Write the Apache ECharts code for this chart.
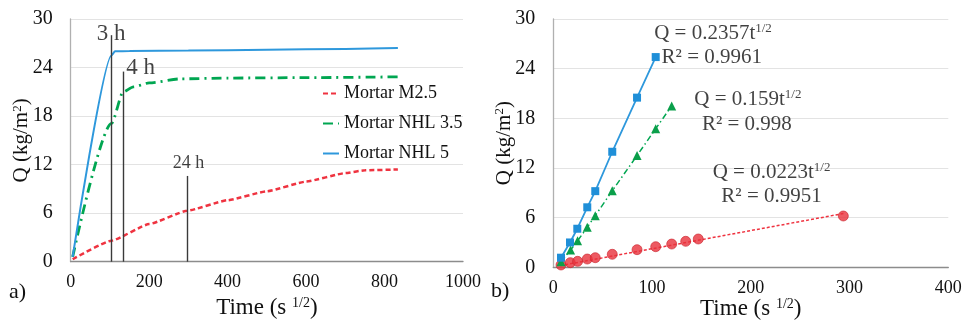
<!DOCTYPE html>
<html><head><meta charset="utf-8">
<script src="https://cdn.jsdelivr.net/npm/echarts@6/dist/echarts.min.js"></script>
<style>html,body{margin:0;padding:0;background:#fff}#c{width:966px;height:322px}</style>
</head><body><div id="c"></div>
<script>
// ---- Panel a) cumulative absorption vs sqrt(time) ----
const m25X  = [5, 104, 200, 297, 400, 500, 600, 700, 750, 834];
const m25Y  = [0.3, 2.6, 4.65, 6.3, 7.6, 8.7, 9.9, 10.95, 11.3, 11.4];
const nhl35X = [5, 104, 134, 160, 200, 280, 400, 600, 834];
const nhl35Y = [0.6, 17.1, 21.0, 21.6, 22.1, 22.6, 22.7, 22.75, 22.85];
const nhl5X  = [5, 104, 113, 150, 300, 500, 700, 834];
const nhl5Y  = [0.6, 25.5, 26.0, 26.05, 26.1, 26.2, 26.3, 26.4];
const hourLineX   = [104.5, 135, 297];
const hourLineTop = [28.0, 23.5, 10.6];
const hourLabels  = ['3 h', '4 h', '24 h'];
const hourLabelAt = [[103, 28.1], [178, 23.9], [300, 12.2]];

// ---- Panel b) linear part ----
const bM25X = [7.8, 17.2, 24.6, 34.4, 42.5, 59.7, 84.8, 103.7, 119.9, 134.1, 146.8, 293.7];
const bM25Y = [0.28, 0.56, 0.72, 1.0, 1.16, 1.57, 2.13, 2.49, 2.81, 3.14, 3.42, 6.2];
const bM25TrendX = [7, 294];
const bM25TrendY = [0.2, 6.5];
const bN35X = [7.8, 17.5, 24.6, 34.4, 42.5, 59.7, 84.8, 103.7, 119.9];
const bN35Y = [0.68, 2.1, 3.2, 4.83, 6.24, 9.25, 13.5, 16.75, 19.5];
const bN5X  = [7.8, 16.9, 24.3, 34.4, 42.5, 59.7, 84.8, 103.7];
const bN5Y  = [1.16, 3.0, 4.66, 7.25, 9.2, 13.96, 20.5, 25.4];
const eqTexts = ['Q = 0.2357t{sup|1/2}', 'R² = 0.9961', 'Q = 0.159t{sup|1/2}', 'R² = 0.998', 'Q = 0.0223t{sup|1/2}', 'R² = 0.9951'];
const eqAt    = [[161.7, 28.3], [160.5, 25.4], [197, 20.3], [196, 17.3], [221, 11.5], [221, 8.6]];

const FONT = "'Liberation Serif', 'Times New Roman', serif";
const RED = '#ef3340', GREEN = '#00a651', BLUE = '#2e98dc';
const zip = (xs, ys) => xs.map((x, i) => [x, ys[i]]);
const supStyle = (sz) => ({fontFamily: FONT, fontSize: sz, verticalAlign: 'top', padding: [0, 0, 9, 0], color: '#111'});

function xAxisCfg(grid, max, interval, gap) {
  return {
    gridIndex: grid, type: 'value', min: 0, max: max, interval: interval,
    axisLine: {show: true, onZero: false, lineStyle: {color: '#8c8c8c', width: 1.3}},
    axisTick: {show: false}, splitLine: {show: false},
    axisLabel: {color: '#111', fontFamily: FONT, fontSize: 18, margin: 12, formatter: v => String(v)},
    name: 'Time (s {sup|1/2})', nameLocation: 'middle', nameGap: gap, nameMoveOverlap: false,
    nameTextStyle: {color: '#111', fontFamily: FONT, fontSize: 23, rich: {sup: supStyle(14)}}
  };
}
function yAxisCfg(grid, gap) {
  return {
    gridIndex: grid, type: 'value', min: 0, max: 30, interval: 6,
    axisLine: {show: true, lineStyle: {color: '#b0b0b0', width: 1.3}},
    axisTick: {show: false},
    splitLine: {show: true, lineStyle: {color: '#e3e3e3', width: 1}},
    axisLabel: {color: '#111', fontFamily: FONT, fontSize: 20, margin: 18},
    name: 'Q (kg/m{sup|2})', nameLocation: 'middle', nameGap: gap, nameMoveOverlap: false,
    nameTextStyle: {color: '#111', fontFamily: FONT, fontSize: 21, rich: {sup: supStyle(13)}}
  };
}
function textSeries(grid, points, texts, size) {
  return {
    type: 'scatter', xAxisIndex: grid, yAxisIndex: grid, symbolSize: 0, silent: true, z: 10,
    data: points.map((p, i) => ({value: p, label: {formatter: texts[i]}})),
    label: {show: true, position: 'inside', color: '#111', fontFamily: FONT, fontSize: size,
      rich: {sup: supStyle(Math.round(size * 0.62))}}
  };
}

const chart = echarts.init(document.getElementById('c'), null, {renderer: 'canvas'});
chart.setOption({
  backgroundColor: '#fff',
  animation: false,
  textStyle: {fontFamily: FONT},
  grid: [
    {left: 70.7, top: 19, width: 392.3, height: 242.7, outerBoundsMode: 'none', containLabel: false},
    {left: 553.3, top: 19, width: 395, height: 248.3, outerBoundsMode: 'none', containLabel: false}
  ],
  xAxis: [xAxisCfg(0, 1000, 200, 35), xAxisCfg(1, 400, 100, 30)],
  yAxis: [yAxisCfg(0, 38), yAxisCfg(1, 38)],
  legend: {
    data: ['Mortar M2.5', 'Mortar NHL 3.5', 'Mortar NHL 5'],
    orient: 'vertical', left: 322, top: 83, padding: 0, itemWidth: 16, itemHeight: 14, itemGap: 9,
    itemStyle: {opacity: 0},
    textStyle: {fontFamily: FONT, fontSize: 18, color: '#111', lineHeight: 21}
  },
  graphic: [
    {type: 'text', left: 9, top: 281, style: {text: 'a)', fontFamily: FONT, fontSize: 22, fill: '#111'}},
    {type: 'text', left: 491, top: 280, style: {text: 'b)', fontFamily: FONT, fontSize: 22, fill: '#111'}}
  ],
  series: [
    {name: 'Mortar M2.5', type: 'line', xAxisIndex: 0, yAxisIndex: 0, showSymbol: false, symbol: 'none',
      smooth: 0.15, smoothMonotone: 'x', data: zip(m25X, m25Y), color: RED,
      lineStyle: {color: RED, width: 2.5, type: [5, 3]}, z: 3},
    {name: 'Mortar NHL 3.5', type: 'line', xAxisIndex: 0, yAxisIndex: 0, showSymbol: false, symbol: 'none',
      smooth: 0.25, smoothMonotone: 'x', data: zip(nhl35X, nhl35Y), color: GREEN,
      lineStyle: {color: GREEN, width: 2.8, type: [10, 5, 2, 5]}, z: 3},
    {name: 'Mortar NHL 5', type: 'line', xAxisIndex: 0, yAxisIndex: 0, showSymbol: false, symbol: 'none',
      smooth: 0.2, smoothMonotone: 'x', data: zip(nhl5X, nhl5Y), color: BLUE,
      lineStyle: {color: BLUE, width: 2}, z: 3,
      markLine: {symbol: 'none', silent: true, label: {show: false}, animation: false,
        lineStyle: {color: '#3a3a3a', width: 1.4, type: 'solid'},
        data: hourLineX.map((x, i) => [{coord: [x, 0]}, {coord: [x, hourLineTop[i]]}])}},
    textSeries(0, hourLabelAt.slice(0, 2), hourLabels.slice(0, 2), 23),
    textSeries(0, hourLabelAt.slice(2), hourLabels.slice(2), 18),

    {name: 'b M2.5 trend', type: 'line', xAxisIndex: 1, yAxisIndex: 1, symbol: 'none',
      data: zip(bM25TrendX, bM25TrendY), lineStyle: {color: RED, width: 1.5, type: [3, 2]}, z: 2},
    {name: 'b M2.5', type: 'scatter', xAxisIndex: 1, yAxisIndex: 1, symbol: 'circle', symbolSize: 10,
      data: zip(bM25X, bM25Y), itemStyle: {color: '#e8313b', borderColor: '#c9252f', borderWidth: 0.8}, z: 4},
    {name: 'b NHL 3.5', type: 'line', xAxisIndex: 1, yAxisIndex: 1, symbol: 'triangle', symbolSize: 9,
      showAllSymbol: true, data: zip(bN35X, bN35Y), itemStyle: {color: '#0a9f4a'},
      lineStyle: {color: GREEN, width: 1.5, type: [6, 3, 1.5, 3]}, z: 4},
    {name: 'b NHL 5', type: 'line', xAxisIndex: 1, yAxisIndex: 1, symbol: 'rect', symbolSize: 8,
      showAllSymbol: true, data: zip(bN5X, bN5Y), itemStyle: {color: '#1f8fd8'},
      lineStyle: {color: BLUE, width: 1.8}, z: 4},
    textSeries(1, eqAt, eqTexts, 21)
  ]
});
</script></body></html>
